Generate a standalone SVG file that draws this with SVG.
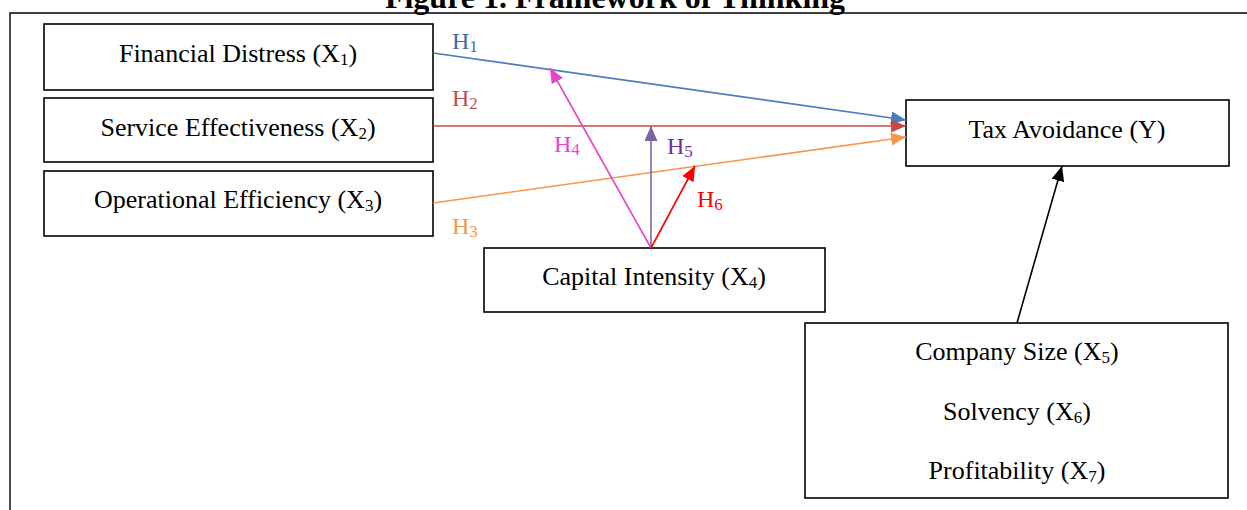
<svg xmlns="http://www.w3.org/2000/svg" width="1247" height="510" viewBox="0 0 1247 510">
<style>
text{font-family:"Liberation Serif","Times New Roman",serif;font-size:26px;fill:#000}
.box{fill:#fff;stroke:#000;stroke-width:1.6}
.s{font-size:17px}
.lbl{font-size:24px}
.c{fill:none;stroke-width:1.6}
</style>
<defs>
<marker id="mb" markerUnits="userSpaceOnUse" markerWidth="16" markerHeight="14" refX="15" refY="6.5" orient="auto"><path d="M0,0 L15,6.5 L0,13 z" fill="#4a7ebb"/></marker>
<marker id="mr" markerUnits="userSpaceOnUse" markerWidth="16" markerHeight="14" refX="15" refY="6.5" orient="auto"><path d="M0,0 L15,6.5 L0,13 z" fill="#be4b48"/></marker>
<marker id="mo" markerUnits="userSpaceOnUse" markerWidth="16" markerHeight="14" refX="15" refY="6.5" orient="auto"><path d="M0,0 L15,6.5 L0,13 z" fill="#f79646"/></marker>
<marker id="mm" markerUnits="userSpaceOnUse" markerWidth="16" markerHeight="14" refX="15" refY="6.5" orient="auto"><path d="M0,0 L15,6.5 L0,13 z" fill="#e845c9"/></marker>
<marker id="mp" markerUnits="userSpaceOnUse" markerWidth="16" markerHeight="14" refX="15" refY="6.5" orient="auto"><path d="M0,0 L15,6.5 L0,13 z" fill="#7f62a4"/></marker>
<marker id="mf" markerUnits="userSpaceOnUse" markerWidth="16" markerHeight="14" refX="15" refY="6.5" orient="auto"><path d="M0,0 L15,6.5 L0,13 z" fill="#ff0000"/></marker>
<marker id="mk" markerUnits="userSpaceOnUse" markerWidth="16" markerHeight="14" refX="15" refY="6.5" orient="auto"><path d="M0,0 L15,6.5 L0,13 z" fill="#000"/></marker>
</defs>
<rect width="1247" height="510" fill="#fff"/>
<text x="615" y="8" text-anchor="middle" font-weight="bold" style="font-size:32px">Figure 1. Framework of Thinking</text>
<path d="M10,510 V13 H1247" fill="none" stroke="#000" stroke-width="1.4"/>

<g id="x1"><rect class="box" x="44" y="24" width="389" height="66"/><text x="238" y="62" text-anchor="middle">Financial Distress (X<tspan class="s" dy="3">1</tspan><tspan dy="-3">)</tspan></text></g>
<g id="x2"><rect class="box" x="44" y="98" width="389" height="64"/><text x="238" y="136" text-anchor="middle">Service Effectiveness (X<tspan class="s" dy="3">2</tspan><tspan dy="-3">)</tspan></text></g>
<g id="x3"><rect class="box" x="44" y="171" width="389" height="65"/><text x="238" y="208" text-anchor="middle">Operational Efficiency (X<tspan class="s" dy="3">3</tspan><tspan dy="-3">)</tspan></text></g>
<g id="y"><rect class="box" x="906" y="100" width="323" height="66"/><text x="1067" y="138" text-anchor="middle">Tax Avoidance (Y)</text></g>
<g id="x4"><rect class="box" x="484" y="248" width="341" height="64"/><text x="654" y="285" text-anchor="middle">Capital Intensity (X<tspan class="s" dy="3">4</tspan><tspan dy="-3">)</tspan></text></g>
<g id="ctrl"><rect class="box" x="805" y="323" width="423" height="175"/>
<text x="1017" y="360" text-anchor="middle">Company Size (X<tspan class="s" dy="3">5</tspan><tspan dy="-3">)</tspan></text>
<text x="1017" y="420" text-anchor="middle">Solvency (X<tspan class="s" dy="3">6</tspan><tspan dy="-3">)</tspan></text>
<text x="1017" y="479" text-anchor="middle">Profitability (X<tspan class="s" dy="3">7</tspan><tspan dy="-3">)</tspan></text></g>

<g id="connectors">
<line class="c" x1="433" y1="53" x2="906" y2="120" stroke="#4a7ebb" marker-end="url(#mb)"/>
<line class="c" x1="433" y1="126" x2="906" y2="126" stroke="#be4b48" marker-end="url(#mr)"/>
<line class="c" x1="433" y1="203" x2="906" y2="137" stroke="#f79646" marker-end="url(#mo)"/>
<line class="c" x1="651" y1="248" x2="550" y2="68" stroke="#e845c9" marker-end="url(#mm)"/>
<line class="c" x1="651" y1="248" x2="651" y2="126" stroke="#7f62a4" marker-end="url(#mp)"/>
<line class="c" x1="651" y1="248" x2="695" y2="166" stroke="#ff0000" marker-end="url(#mf)"/>
<line class="c" x1="1017" y1="323" x2="1062" y2="166" stroke="#000" marker-end="url(#mk)"/>
</g>
<g id="labels">
<text class="lbl" x="452" y="49" style="fill:#3e6ba5">H<tspan class="s" dy="3">1</tspan></text>
<text class="lbl" x="452" y="106" style="fill:#c0504d">H<tspan class="s" dy="3">2</tspan></text>
<text class="lbl" x="452" y="234" style="fill:#f79646">H<tspan class="s" dy="3">3</tspan></text>
<text class="lbl" x="554" y="152" style="fill:#e845c9">H<tspan class="s" dy="3">4</tspan></text>
<text class="lbl" x="667" y="154" style="fill:#7030a0">H<tspan class="s" dy="3">5</tspan></text>
<text class="lbl" x="697" y="207" style="fill:#ff0000">H<tspan class="s" dy="3">6</tspan></text>
</g>
</svg>
